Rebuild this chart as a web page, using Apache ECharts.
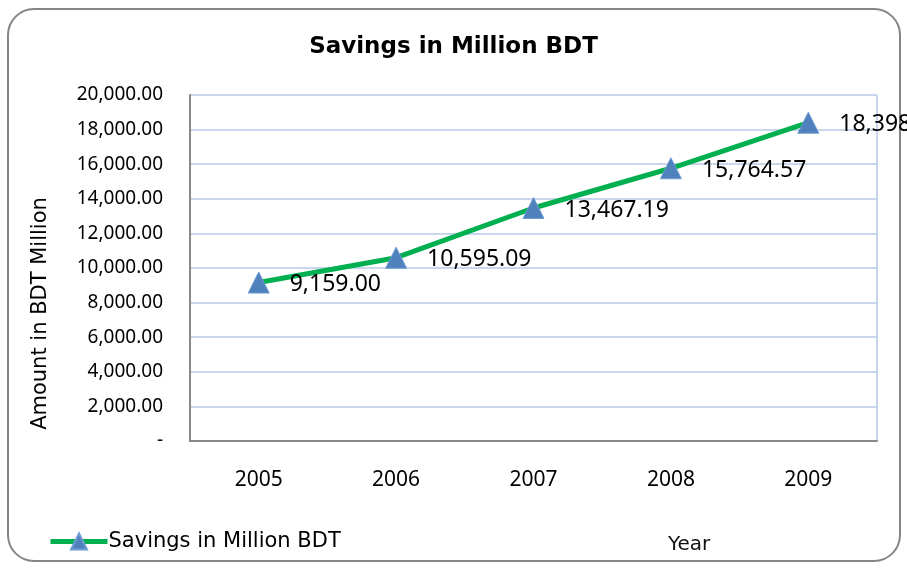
<!DOCTYPE html>
<html><head><meta charset="utf-8">
<script src="https://cdn.jsdelivr.net/npm/echarts@6/dist/echarts.min.js"></script>
<style>html,body{margin:0;padding:0;background:#fff}#c{width:907px;height:568px}</style>
</head><body><div id="c"></div>
<script>
var categories = ['2005', '2006', '2007', '2008', '2009'];
var savings = [9159.00, 10595.09, 13467.19, 15764.57, 18398.45];
var seriesName = 'Savings in Million BDT';

var chart = echarts.init(document.getElementById('c'));
function fmt(v) {
  if (v === 0) return '-';
  return v.toLocaleString('en-US', {minimumFractionDigits: 2, maximumFractionDigits: 2});
}
chart.setOption({
  animation: false,
  title: {
    text: 'Savings in Million BDT', left: 'center', top: 31,
    textStyle: {fontFamily: 'DejaVu Sans', fontWeight: 'bold', fontSize: 23, color: '#000'}
  },
  graphic: [
    {type: 'rect', shape: {x: 8, y: 9, width: 892, height: 552, r: 26},
     style: {fill: 'none', stroke: '#858585', lineWidth: 2}, z: -1},
    {type: 'line', shape: {x1: 877, y1: 95, x2: 877, y2: 441},
     style: {stroke: '#b7c8e8', lineWidth: 1.5}},
    {type: 'text', x: 668, y: 535,
     style: {text: 'Year', fontFamily: 'DejaVu Sans', fontSize: 20, fill: '#111'}},
    {type: 'text', x: 41, y: 313.5, rotation: Math.PI / 2,
     style: {text: 'Amount in BDT Million', fontFamily: 'DejaVu Sans', fontSize: 21, fill: '#000',
             align: 'center', verticalAlign: 'middle'}}
  ],
  legend: {
    left: 48, top: 531, padding: 0, itemWidth: 57, itemHeight: 20, itemGap: 4,
    lineStyle: {width: 5},
    textStyle: {fontFamily: 'DejaVu Sans', fontSize: 21, color: '#000', padding: [0,0,0,-4]},
    data: [seriesName]
  },
  grid: {left: 190, right: 30, top: 95, bottom: 127},
  xAxis: {
    type: 'category', data: categories, boundaryGap: true,
    axisLine: {lineStyle: {color: '#888', width: 2}},
    axisTick: {show: false},
    axisLabel: {margin: 29, fontFamily: 'Noto Sans', fontSize: 21, color: '#000'},
    splitLine: {show: false}
  },
  yAxis: {
    type: 'value', min: 0, max: 20000, interval: 2000,
    axisLine: {show: true, lineStyle: {color: '#888', width: 2}},
    axisTick: {show: false},
    axisLabel: {margin: 27, fontFamily: 'Noto Sans', fontSize: 19, color: '#000', formatter: fmt},
    splitLine: {lineStyle: {color: '#b7c8e8', width: 1.5}}
  },
  series: [{
    name: seriesName, type: 'line', data: savings,
    symbol: 'triangle', symbolSize: 21,
    lineStyle: {color: '#00b050', width: 5},
    itemStyle: {color: '#4f81bd', borderColor: '#6f9bd3', borderWidth: 1},
    label: {
      show: true, position: 'right', distance: 20, offset: [0, 2],
      fontFamily: 'Noto Sans', fontSize: 23, color: '#000',
      formatter: function (p) { return fmt(p.value); }
    }
  }]
});
</script></body></html>
